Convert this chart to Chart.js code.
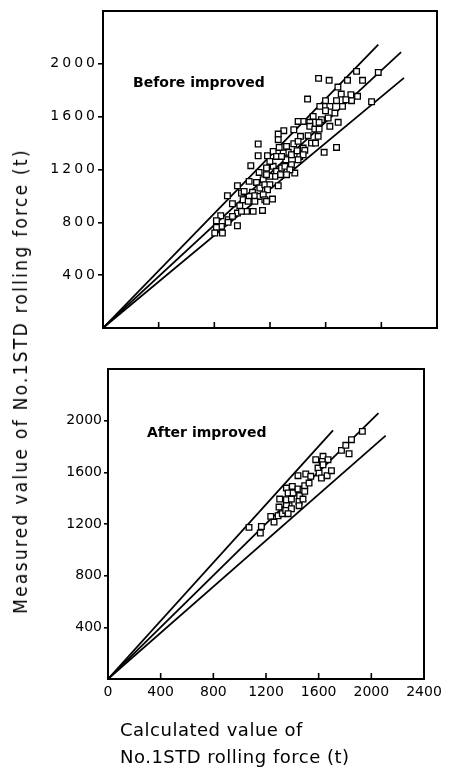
<!DOCTYPE html>
<html>
<head>
<meta charset="utf-8">
<script src="https://cdn.jsdelivr.net/npm/chart.js@4.4.1/dist/chart.umd.min.js"></script>
<style>
  body { margin: 0; background: #fff; }
  #wrap { position: relative; width: 457px; height: 772px; overflow: hidden; }
  canvas { position: absolute; left: 0; }
  .ytitle {
    position: absolute; left: 20px; top: 381px;
    transform: translate(-50%, -50%) rotate(-90deg);
    white-space: nowrap; font-family: "DejaVu Sans Condensed", "DejaVu Sans", sans-serif;
    font-size: 19px; letter-spacing: 2.25px; color: #000;
  }
  .xtitle {
    position: absolute; left: 120px; white-space: nowrap;
    font-family: "DejaVu Sans", sans-serif; font-size: 18px; letter-spacing: 0.5px;
    color: #000; line-height: 20px;
  }
</style>
</head>
<body>
<div id="wrap">
  <canvas id="beforeChart" width="457" height="345" style="top:0"></canvas>
  <canvas id="afterChart" width="457" height="427" style="top:345px"></canvas>
  <div class="ytitle">Measured value of No.1STD rolling force (t)</div>
  <div class="xtitle" style="top:720px">Calculated value of</div>
  <div class="xtitle" style="top:747px">No.1STD rolling force (t)</div>
</div>
<script>
// axis ticks (t)
const axisTicks = [0, 400, 800, 1200, 1600, 2000, 2400];
const tickMarks = [400, 800, 1200, 1600, 2000];

// before improvement: calculated (x) vs measured (y)
const beforeX = [1549,1625,1822,1757,1865,1978,1688,1470,1930,1712,1781,1829,1786,1745,1678,1721,1599,1558,1630,1599,
  1666,1618,1570,1690,1630,1553,1510,1486,1438,1402,1486,1522,1553,1474,1546,1498,1527,1589,1678,1371,
  1299,1259,1259,1419,1371,1319,1331,1295,1354,1402,1438,1395,1450,1414,1438,1402,1354,1378,1115,1115,
  1062,1182,1223,1266,1122,1175,1223,1247,1283,1307,1343,1319,1275,1235,1199,1151,1175,966,1050,1103,
  1127,1163,1199,1259,1182,894,995,1074,1007,1050,1091,1127,1151,1163,1218,1175,1091,1043,930,983,
  1031,1079,1146,966,995,846,815,899,930,966,851,815,803,858,899,1199,1247,1314,1283,1014];
const beforeY = [1890,1875,1943,1875,1875,1935,1824,1733,1713,1771,1766,1754,1721,1728,1721,1678,1721,1678,1678,1645,
  1627,1590,1577,1557,1527,1557,1602,1557,1564,1564,1527,1506,1506,1456,1451,1400,1400,1330,1367,1501,
  1494,1468,1426,1451,1395,1375,1330,1325,1312,1413,1362,1342,1345,1299,1312,1274,1236,1173,1393,1304,
  1229,1304,1337,1367,1178,1211,1224,1186,1211,1224,1198,1161,1161,1148,1148,1123,1161,1077,1110,1102,
  1060,1085,1085,1077,1047,1001,1022,1027,971,996,1001,996,1009,971,976,959,959,959,941,926,
  883,883,890,870,883,850,812,820,845,774,769,762,719,719,800,1261,1299,1274,1299,1034];
// guide lines from origin: end points [x, y]
const beforeLineEnds = [[1978, 2146], [2142, 2088], [2163, 1894]];

// after improvement
const afterX = [1071,1157,1165,1236,1261,1292,1299,1324,1304,1355,1375,1355,1368,1400,1406,1393,1355,1350,1393,1368,
  1443,1456,1451,1481,1451,1481,1494,1494,1443,1502,1540,1527,1578,1595,1603,1633,1628,1671,1621,1664,
  1697,1633,1773,1806,1831,1849,1932];
const afterY = [1174,1130,1181,1259,1215,1264,1331,1280,1393,1388,1342,1478,1440,1491,1440,1393,1342,1305,1318,1280,
  1471,1419,1375,1393,1342,1465,1496,1453,1574,1587,1569,1517,1698,1633,1594,1724,1685,1698,1556,1574,
  1613,1659,1770,1809,1744,1853,1917];
const afterLineEnds = [[1709, 1925], [2054, 2059], [2109, 1884]];

const tickFont = { family: 'DejaVu Sans', size: 14 };

// box around the plot, inward x tick marks, panel note
const framePlugin = {
  id: 'frame',
  beforeDraw(chart, args, opts) {
    chart.ctx.letterSpacing = opts.labelSpacing || '0px';
  },
  beforeDatasetsDraw(chart) {
    chart.ctx.letterSpacing = '0px';
  },
  afterDatasetsDraw(chart, args, opts) {
    const { ctx, chartArea: a, scales: { x } } = chart;
    ctx.save();
    ctx.strokeStyle = '#000';
    ctx.lineWidth = 2;
    ctx.strokeRect(a.left, a.top, a.right - a.left, a.bottom - a.top);
    ctx.lineWidth = 1.6;
    ctx.beginPath();
    tickMarks.forEach(v => {
      const px = x.getPixelForValue(v);
      ctx.moveTo(px, a.bottom);
      ctx.lineTo(px, a.bottom - 6);
    });
    ctx.stroke();
    ctx.fillStyle = '#000';
    ctx.font = 'bold 14px "DejaVu Sans"';
    ctx.textBaseline = 'middle';
    ctx.fillText(opts.note, a.left + opts.noteDx, a.top + opts.noteDy);
    ctx.restore();
  }
};

function makeChart(id, xs, ys, lineEnds, cfg) {
  const points = xs.map((v, i) => ({ x: v, y: ys[i] }));
  const datasets = [{
    data: points,
    pointStyle: 'rect',
    pointRadius: 4,
    borderColor: '#000',
    borderWidth: 1.3,
    backgroundColor: '#fff'
  }];
  lineEnds.forEach(e => datasets.push({
    data: [{ x: 0, y: 0 }, { x: e[0], y: e[1] }],
    showLine: true,
    pointRadius: 0,
    borderColor: '#000',
    borderWidth: 1.8
  }));

  return new Chart(document.getElementById(id), {
    type: 'scatter',
    data: { datasets },
    plugins: [framePlugin],
    options: {
      responsive: false,
      animation: false,
      layout: { padding: cfg.padding },
      plugins: {
        legend: { display: false },
        tooltip: { enabled: false },
        frame: { note: cfg.note, noteDx: cfg.noteDx, noteDy: cfg.noteDy, labelSpacing: cfg.labelSpacing }
      },
      scales: {
        x: {
          type: 'linear', min: 0, max: 2400,
          afterBuildTicks: s => { s.ticks = axisTicks.map(v => ({ value: v })); },
          afterFit: s => { s.height = cfg.xHeight; },
          ticks: { display: cfg.xLabels, font: tickFont, color: '#000', padding: 5, callback: v => String(v) },
          grid: { drawOnChartArea: false, drawTicks: false },
          border: { display: false }
        },
        y: {
          type: 'linear', min: 0, max: 2400,
          afterBuildTicks: s => { s.ticks = tickMarks.map(v => ({ value: v })); },
          afterFit: s => { s.width = cfg.yWidth; },
          ticks: { font: tickFont, color: '#000', padding: cfg.yPad, callback: v => String(v) },
          grid: { drawOnChartArea: false, tickLength: cfg.yTick, color: '#000', lineWidth: 1.6 },
          border: { display: false }
        }
      }
    }
  });
}

makeChart('beforeChart', beforeX, beforeY, beforeLineEnds, {
  padding: { top: 11, right: 20, left: 0, bottom: 0 },
  xHeight: 17, yWidth: 103, yTick: 5, yPad: 0, xLabels: false,
  note: 'Before improved', noteDx: 30, noteDy: 72, labelSpacing: '3px'
});

makeChart('afterChart', afterX, afterY, afterLineEnds, {
  padding: { top: 24, right: 33, left: 0, bottom: 0 },
  xHeight: 93, yWidth: 108, yTick: 4, yPad: 2, xLabels: true,
  note: 'After improved', noteDx: 39, noteDy: 64, labelSpacing: '0px'
});
</script>
</body>
</html>
